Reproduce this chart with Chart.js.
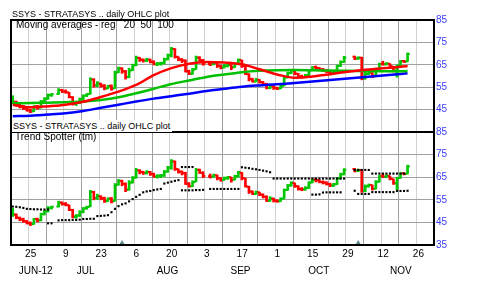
<!DOCTYPE html>
<html>
<head>
<meta charset="utf-8">
<script src="https://cdn.jsdelivr.net/npm/chart.js@4.4.1/dist/chart.umd.min.js"></script>
<style>
  html, body { margin: 0; padding: 0; background: #fff; }
  #wrap { position: relative; width: 480px; height: 282px; overflow: hidden; font-family: "Liberation Sans", Arial, sans-serif; }
  canvas { position: absolute; left: 0; top: 0; }
  .lbl { position: absolute; white-space: pre; color: #000; line-height: 1; }
</style>
</head>
<body>
<div id="wrap">
  <canvas id="price" width="480" height="150"></canvas>
  <canvas id="trend" width="480" height="282"></canvas>
  <div class="lbl" style="left:12px; top:10px; font-size:9px;">SSYS - STRATASYS .. daily OHLC plot</div>
  <div class="lbl" style="left:16px; top:20px; font-size:10px;">Moving averages - reg   20  50  100</div>
  <div class="lbl" style="left:12px; top:120px; height:12px; line-height:12px; font-size:9px; background:#fff; padding:0 2px 0 1px;">SSYS - STRATASYS .. daily OHLC plot</div>
  <div class="lbl" style="left:15px; top:132px; font-size:10px;">Trend Spotter (tm)</div>
</div>
<script>
// SSYS daily OHLC, Mon Jun 18 2012 .. Wed Nov 21 2012
// one slot per weekday, market holidays (Jul 4, Sep 3, Oct 29-30) left empty
const _ = null;
const slotCount = 120; // 24 weeks on the axis

const opens = [
  50.6, 48.4, 47.0, 46.4, 45.5, 44.8, 44.3, 46.5, 45.9, 48.6,
  49.9, 51.5, _, 52.0, 53.8, 53.1, 52.6, 50.5, 47.5, 48.0,
  49.5, 51.3, 52.0, 58.4, 55.9, 56.5, 55.7, 54.4, 55.6, 54.5,
  61.7, 63.3, 62.1, 59.6, 62.6, 64.8, 68.1, 67.4, 66.8, 67.3,
  66.4, 65.2, 65.6, 65.9, 67.5, 69.2, 72.0, 68.6, 67.4, 66.9,
  62.2, 61.0, 63.0, 68.3, 67.0, _, 65.4, 65.2, 65.9, 64.6,
  63.8, 64.5, 65.0, 63.9, 65.4, 67.0, 64.5, 60.8, 58.8, 57.6,
  58.3, 57.3, 56.4, 54.6, 55.5, 54.7, 54.4, 55.6, 59.3, 61.3,
  62.4, 61.0, 59.8, 59.6, 60.3, 62.6, 64.0, 63.6, 62.9, 62.6,
  62.0, 61.2, 61.9, 64.5, 66.3, _, _, 68.6, 67.8, 68.2,
  58.9, 61.0, 61.5, 59.9, 63.0, 65.5, 65.2, 65.5, 64.2, 62.3,
  64.6, 66.7, 66.5
];
const highs = [
  51.2, 48.8, 47.4, 46.9, 45.9, 45.2, 46.8, 46.9, 49.1, 50.3,
  52.0, 52.2, _, 54.4, 54.1, 53.8, 52.7, 50.8, 48.5, 50.2,
  51.6, 52.2, 59.2, 58.8, 57.5, 56.8, 56.2, 55.9, 56.0, 62.2,
  64.0, 63.7, 62.5, 63.5, 65.3, 68.9, 68.3, 67.6, 67.9, 67.6,
  66.8, 66.1, 66.2, 68.0, 69.8, 72.8, 72.2, 68.6, 67.8, 67.2,
  62.6, 63.4, 68.9, 68.6, 67.4, _, 66.4, 66.4, 66.0, 64.8,
  65.1, 65.4, 65.0, 65.9, 67.6, 67.1, 64.5, 61.0, 58.9, 58.9,
  58.4, 57.6, 56.8, 56.4, 55.8, 55.0, 55.9, 59.8, 61.8, 63.0,
  62.4, 61.2, 60.4, 60.8, 63.0, 64.2, 64.5, 63.8, 63.4, 63.0,
  62.4, 62.3, 64.9, 66.8, 68.8, _, _, 68.9, 68.6, 68.4,
  61.6, 62.0, 61.5, 63.5, 65.8, 66.6, 66.0, 65.5, 64.2, 65.0,
  67.0, 67.0, 70.3
];
const lows = [
  47.6, 46.6, 45.7, 45.0, 44.3, 43.6, 44.1, 45.2, 45.7, 48.3,
  49.6, 50.9, _, 51.8, 52.6, 52.3, 50.2, 47.0, 46.8, 47.6,
  49.3, 50.8, 51.9, 55.0, 55.2, 55.0, 53.8, 54.3, 53.6, 54.4,
  61.5, 61.2, 58.6, 59.2, 62.4, 64.6, 66.5, 66.2, 66.4, 65.8,
  65.0, 64.6, 64.8, 65.3, 67.2, 68.5, 68.0, 66.8, 66.0, 61.8,
  60.6, 60.8, 63.0, 66.6, 64.8, _, 64.6, 65.0, 63.8, 63.2,
  63.6, 64.0, 62.8, 63.8, 65.0, 63.8, 60.6, 57.8, 57.3, 57.4,
  56.8, 55.8, 54.2, 54.3, 54.0, 53.9, 54.3, 55.6, 59.2, 61.0,
  60.5, 59.3, 59.0, 59.2, 60.0, 62.5, 62.9, 62.5, 62.0, 61.5,
  60.8, 60.9, 61.8, 64.2, 66.0, _, _, 67.3, 67.4, 58.3,
  58.6, 60.6, 59.3, 59.8, 62.8, 64.8, 64.9, 63.8, 61.8, 59.5,
  64.5, 66.0, 66.5
];
const closes = [
  48.6, 47.2, 46.3, 45.6, 44.6, 44.2, 46.4, 45.8, 48.7, 49.9,
  51.4, 51.9, _, 53.7, 53.1, 52.8, 50.6, 47.6, 47.9, 49.6,
  51.2, 51.8, 58.6, 55.8, 56.6, 55.6, 54.5, 55.5, 54.3, 61.5,
  63.4, 62.0, 59.5, 62.5, 64.8, 68.0, 67.3, 66.9, 67.4, 66.3,
  65.3, 65.6, 65.8, 67.4, 69.3, 72.0, 68.5, 67.4, 66.8, 62.0,
  61.0, 62.8, 68.2, 67.0, 65.5, _, 65.2, 65.8, 64.5, 63.7,
  64.6, 65.0, 63.9, 65.5, 67.2, 64.6, 61.0, 58.6, 57.6, 58.3,
  57.2, 56.2, 54.6, 55.6, 54.6, 54.4, 55.4, 59.3, 61.3, 62.5,
  61.0, 59.8, 59.6, 60.3, 62.6, 63.8, 63.6, 62.9, 62.6, 62.0,
  61.3, 61.9, 64.5, 66.3, 68.3, _, _, 67.8, 68.2, 58.9,
  61.0, 61.6, 59.8, 63.0, 65.4, 65.2, 65.6, 64.3, 62.3, 64.6,
  66.6, 66.4, 69.8
];

const maSlots = [0, 5, 10, 15, 20, 25, 30, 35, 40, 45, 50, 55, 60, 65, 70, 75, 80, 85, 90, 95, 100, 105, 110, 112];
const ma20  = [47.2, 46.0, 46.5, 47.2, 48.5, 50.6, 53.0, 56.0, 60.4, 63.5, 65.5, 66.3, 66.0, 65.2, 63.0, 60.7, 59.2, 59.8, 60.8, 61.9, 62.8, 63.5, 64.1, 64.5];
const ma50  = [47.8, 47.9, 48.1, 48.3, 48.6, 49.3, 50.5, 52.3, 54.3, 56.4, 58.0, 59.6, 60.7, 61.7, 62.3, 62.6, 62.7, 62.6, 62.4, 62.3, 62.2, 62.1, 62.1, 62.2];
const ma100 = [42.0, 42.3, 42.8, 43.4, 44.4, 45.8, 47.2, 48.6, 49.9, 51.0, 52.1, 53.3, 54.3, 55.2, 55.8, 56.3, 56.9, 57.5, 58.2, 58.9, 59.6, 60.2, 60.9, 61.2];

// Trend Spotter stop dots, per slot
const tsUpper = [
  52.0, 51.9, 51.7, 51.4, 51.0, 50.9, 50.8, 50.8, 50.7, 50.7,
  50.7, _, _, _, _, _, _, _, _, _,
  _, _, _, _, _, _, _, _, _, _,
  _, _, _, _, _, _, _, _, _, _,
  _, _, _, _, _, _, _, _, 69.5, 69.5,
  69.5, 69.5, _, _, _, _, _, _, _, _,
  _, _, _, _, _, 69.4, 69.2, 69.0, 68.7, 68.5,
  68.2, 67.9, 67.6, 67.2, 64.4, 64.4, 64.4, 64.4, 64.4, 64.4,
  64.4, 64.4, 64.4, 64.4, 64.4, 64.4, 64.4, 64.4, 64.4, 64.4,
  64.4, 64.4, 64.4, 64.4, 64.4, _, _, 68.2, 68.2, 68.2,
  68.2, 68.2, 66.6, 66.6, 66.6, 66.6, 66.6, 66.6, 66.6, 66.6,
  66.6, 66.6, _
];
const tsLower = [
  _, _, _, _, _, _, _, _, _, _,
  44.6, 44.6, _, 45.9, 46.0, 46.0, 46.0, 46.1, 46.1, 46.2,
  46.5, 46.5, 46.6, 46.6, 47.8, 47.9, 48.0, 48.2, 49.5, 51.0,
  52.2, 53.0, 53.4, 54.3, 55.3, 56.3, 57.2, 58.3, 58.7, 58.9,
  59.3, 59.6, 59.8, 62.2, 62.6, 63.0, 63.4, 63.7, 59.2, 59.2,
  59.2, 59.2, 59.3, 59.3, 59.4, _, 59.8, 59.8, 59.8, 59.8,
  59.8, 59.8, 59.8, 59.8, 59.8, _, _, _, _, _,
  _, _, _, _, _, _, _, _, _, _,
  _, _, _, _, _, 57.3, 57.3, 57.4, 58.2, 58.3,
  58.3, 58.3, 58.3, 58.3, _, _, _, 59.0, 57.6, 57.6,
  57.6, 57.6, 58.4, 58.4, 58.4, 58.4, 58.4, 58.4, 58.4, 58.9,
  58.9, 58.9, 59.0
];
const eventSlots = [31, 98];

// axis labels
const dayTicks = [5, 15, 25, 35, 45, 55, 65, 75, 85, 95, 105, 115];
const dayLabels = ['25', '9', '23', '6', '20', '3', '17', '1', '15', '29', '12', '26'];
const monthPos = [7.0, 21.2, 44.4, 65.1, 87.3, 110.6];
const monthNames = ['JUN-12', 'JUL', 'AUG', 'SEP', 'OCT', 'NOV'];

const FONT = '"Liberation Sans", Arial, sans-serif';
const UP = '#00c800', DOWN = '#ff0000';
const GRID_DARK = '#a0a0a0', GRID_LIGHT = '#d2d2d2';
const weekTicks = Array.from({ length: slotCount / 5 + 1 }, (_, k) => k * 5);

Chart.defaults.font.family = FONT;

// OHLC bars as floating bars [low, high]; open/close ticks added by plugin
function ohlcSet() {
  const pts = [];
  closes.forEach((c, i) => {
    if (c == null) return;
    pts.push({ x: i + 0.5, y: [lows[i], highs[i]], o: opens[i], c: c });
  });
  let prev = null;
  const cols = pts.map(p => {
    const up = prev == null || p.c >= prev;
    prev = p.c;
    return up ? UP : DOWN;
  });
  return { type: 'bar', data: pts, backgroundColor: cols, borderWidth: 0, barThickness: 2,
           grouped: false, xAxisID: 'x', yAxisID: 'y' };
}

function maLine(vals, color) {
  return { type: 'line', data: maSlots.map((s, k) => ({ x: s + 0.5, y: vals[k] })),
           borderColor: color, borderWidth: 2.5, pointRadius: 0, fill: false,
           cubicInterpolationMode: 'monotone', xAxisID: 'x', yAxisID: 'y' };
}

function dots(vals) {
  const pts = [];
  vals.forEach((v, i) => { if (v != null) pts.push({ x: i + 0.5, y: v }); });
  return { type: 'line', data: pts, showLine: false, pointStyle: 'rect', pointRadius: 1.5,
           pointBackgroundColor: '#000', pointBorderWidth: 0, xAxisID: 'x', yAxisID: 'y' };
}

const ohlcTicks = {
  id: 'ohlcTicks',
  afterDatasetDraw(chart, args) {
    if (args.meta.type !== 'bar') return;
    const ctx = chart.ctx, ys = chart.scales.y;
    const ds = chart.data.datasets[args.index];
    ctx.save();
    ctx.lineWidth = 2;
    args.meta.data.forEach((bar, j) => {
      const p = ds.data[j];
      const yo = ys.getPixelForValue(p.o), yc = ys.getPixelForValue(p.c);
      ctx.strokeStyle = ds.backgroundColor[j];
      ctx.beginPath();
      ctx.moveTo(bar.x - 2.2, yo); ctx.lineTo(bar.x, yo);
      ctx.moveTo(bar.x, yc); ctx.lineTo(bar.x + 2.2, yc);
      ctx.stroke();
    });
    ctx.restore();
  }
};

const frame = {
  id: 'frame',
  afterDraw(chart) {
    const { ctx, chartArea: a } = chart;
    ctx.save();
    ctx.strokeStyle = '#000';
    ctx.lineWidth = 2;
    ctx.strokeRect(a.left, a.top, a.right - a.left, a.bottom - a.top);
    ctx.restore();
  }
};

function xAxis(withLabels) {
  return {
    type: 'linear', position: 'bottom', min: 0, max: slotCount, offset: false, weight: 0,
    afterBuildTicks: ax => { ax.ticks = weekTicks.map(v => ({ value: v })); },
    afterFit: ax => { ax.height = withLabels ? 12 : 18; },
    grid: { offset: false, drawTicks: false,
            color: c => (c.tick && c.tick.value % 10 === 0) ? GRID_DARK : GRID_LIGHT },
    border: { display: false },
    ticks: { display: withLabels, autoSkip: false, maxRotation: 0, padding: 3, labelOffset: 2,
             color: '#000', font: { size: 10 },
             callback: v => { const k = dayTicks.indexOf(v); return k < 0 ? '' : dayLabels[k]; } }
  };
}

function yAxis(showBottom) {
  return {
    type: 'linear', position: 'right', min: 35, max: 85, beginAtZero: false,
    afterFit: ax => { ax.width = 46; },
    grid: { drawTicks: false,
            color: c => (c.tick && c.tick.value % 10 === 5) ? GRID_DARK : GRID_LIGHT },
    border: { display: false },
    ticks: { stepSize: 5, padding: 2, color: '#3c3cff', font: { size: 10 },
             callback: v => (v % 10 === 5 && (showBottom || v !== 35)) ? String(v) : '' }
  };
}

const common = {
  responsive: false, animation: false, events: [],
  plugins: { legend: { display: false }, tooltip: { enabled: false } }
};

new Chart(document.getElementById('price'), {
  type: 'bar',
  data: { datasets: [maLine(ma20, '#ff0000'), maLine(ma50, '#00c000'), maLine(ma100, '#0000ff'), ohlcSet()] },
  options: Object.assign({}, common, {
    layout: { padding: { left: 11, top: 20, right: 0, bottom: 0 } },
    scales: { x: xAxis(false), y: yAxis(false) }
  }),
  plugins: [ohlcTicks, frame]
});

new Chart(document.getElementById('trend'), {
  type: 'bar',
  data: { datasets: [
    dots(tsUpper), dots(tsLower),
    { type: 'line', data: eventSlots.map(s => ({ x: s + 0.5, y: 35.8 })), showLine: false,
      pointStyle: 'triangle', pointRadius: 3.3, pointBackgroundColor: '#5b8a8c', pointBorderWidth: 0,
      clip: false, xAxisID: 'x', yAxisID: 'y' },
    ohlcSet()
  ] },
  options: Object.assign({}, common, {
    layout: { padding: { left: 11, top: 132, right: 0, bottom: 0 } },
    scales: {
      x: xAxis(true),
      xm: {
        type: 'linear', position: 'bottom', min: 0, max: slotCount, offset: false, weight: 1,
        afterBuildTicks: ax => { ax.ticks = monthPos.map(v => ({ value: v })); },
        afterFit: ax => { ax.height = 25; },
        grid: { display: false, offset: false }, border: { display: false },
        ticks: { autoSkip: false, maxRotation: 0, padding: 0, color: '#000', font: { size: 10 },
                 callback: (v, i) => monthNames[i] }
      },
      y: yAxis(true)
    }
  }),
  plugins: [ohlcTicks, frame]
});
</script>
</body>
</html>
